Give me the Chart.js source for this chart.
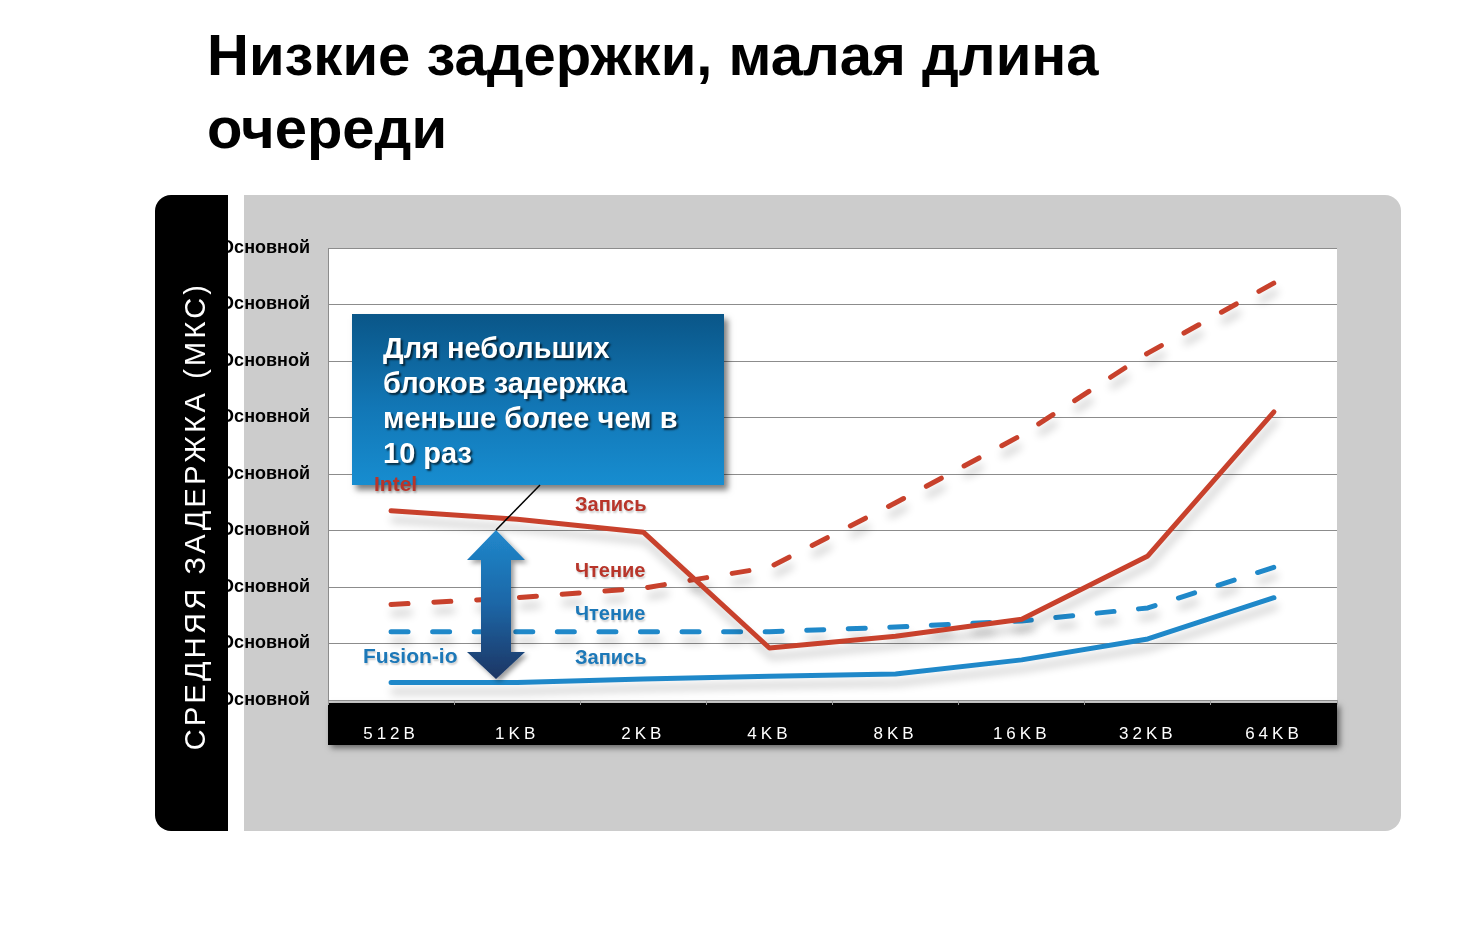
<!DOCTYPE html>
<html><head><meta charset="utf-8">
<script src="https://cdn.jsdelivr.net/npm/chart.js@4/dist/chart.umd.min.js"></script>
<style>
html,body{margin:0;padding:0;background:#fff;width:1463px;height:931px;overflow:hidden;font-family:"Liberation Sans",Arial,sans-serif;}
#title{position:absolute;left:207px;top:18px;font-size:58px;font-weight:bold;line-height:73px;color:#000;white-space:nowrap;}
#panel{position:absolute;left:244px;top:195px;width:1157px;height:636px;background:#cccccc;border-radius:0 16px 16px 0;z-index:1;}
#side{position:absolute;left:155px;top:195px;width:73px;height:636px;background:#000;border-radius:16px 0 0 16px;z-index:5;}
#ytitle{position:absolute;left:40px;top:321px;transform:translate(-50%,-50%) rotate(-90deg);color:#fff;font-size:29px;letter-spacing:3.2px;white-space:nowrap;}
#chartWrap{position:absolute;left:0;top:0;width:1463px;height:931px;z-index:2;}
#callout{position:absolute;left:352px;top:314px;width:372px;height:171px;z-index:3;
  background:linear-gradient(to bottom,#0a5688 0%,#1277b6 55%,#178dd0 100%);
  box-shadow:4px 5px 6px rgba(0,0,0,0.5);box-sizing:border-box;padding:17px 0 0 31px;
  color:#fff;font-weight:bold;font-size:29px;line-height:35px;text-shadow:2px 2px 2px rgba(0,0,0,0.65);}
#ann{position:absolute;left:0;top:0;z-index:4;pointer-events:none;}
.lbl{position:absolute;z-index:6;font-weight:bold;font-size:20px;line-height:22px;white-space:nowrap;text-shadow:1px 2px 2px rgba(0,0,0,0.2);}
.big{font-size:21px;}
.red{color:#b8352a;}
.blue{color:#1c78b8;}
</style>
</head><body>
<div id="title">Низкие задержки, малая длина<br>очереди</div>
<div id="panel"></div>
<div id="side"><div id="ytitle">СРЕДНЯЯ ЗАДЕРЖКА (МКС)</div></div>
<div id="chartWrap"><canvas id="c" width="1463" height="931"></canvas></div>
<div id="callout">Для небольших<br>блоков задержка<br>меньше более чем в<br>10 раз</div>
<svg id="ann" width="1463" height="931">
  <defs>
    <linearGradient id="ag" x1="0" y1="0" x2="0" y2="1">
      <stop offset="0" stop-color="#2188cc"/>
      <stop offset="0.5" stop-color="#1a66a6"/>
      <stop offset="1" stop-color="#1a3563"/>
    </linearGradient>
    <filter id="sh" x="-30%" y="-30%" width="160%" height="160%">
      <feDropShadow dx="3" dy="3" stdDeviation="2.5" flood-color="#000" flood-opacity="0.4"/>
    </filter>
  </defs>
  <polygon points="496,530 525,560 511,560 511,652 525,652 496,679 467,652 481,652 481,560 467,560" fill="url(#ag)" filter="url(#sh)"/>
  <line x1="496" y1="530" x2="540" y2="485" stroke="#000" stroke-width="1.5"/>
</svg>
<div class="lbl big red" style="left:374px;top:473px;">Intel</div>
<div class="lbl big blue" style="left:363px;top:645px;">Fusion-io</div>
<div class="lbl red" style="left:575px;top:493px;">Запись</div>
<div class="lbl red" style="left:575px;top:559px;">Чтение</div>
<div class="lbl blue" style="left:575px;top:602px;">Чтение</div>
<div class="lbl blue" style="left:575px;top:646px;">Запись</div>
<script>
const categories = ['512B','1KB','2KB','4KB','8KB','16KB','32KB','64KB'];
const intelWrite  = [3.35, 3.20, 2.97, 0.92, 1.13, 1.43, 2.55, 5.10];
const intelRead   = [1.69, 1.81, 1.98, 2.35, 3.49, 4.69, 6.14, 7.38];
const fusionRead  = [1.21, 1.21, 1.21, 1.21, 1.29, 1.40, 1.63, 2.35];
const fusionWrite = [0.31, 0.31, 0.37, 0.42, 0.46, 0.71, 1.08, 1.81];
const yTickLabel = 'Основной';
const yMin = 0, yMax = 8, yStep = 1;

const RED = '#c8412c', BLUE = '#1f88c9';

const bgPlugin = {
  id: 'bg',
  beforeDraw(chart) {
    const {ctx, chartArea: a} = chart;
    ctx.save();
    ctx.fillStyle = '#fff';
    ctx.fillRect(a.left, a.top, a.right - a.left, a.bottom - a.top);
    ctx.shadowColor = 'rgba(0,0,0,0.5)';
    ctx.shadowBlur = 6; ctx.shadowOffsetX = 3; ctx.shadowOffsetY = 3;
    ctx.fillStyle = '#000';
    ctx.fillRect(a.left, a.bottom + 3, a.right - a.left, 42);
    ctx.restore();
  },
  beforeDatasetDraw(chart) {
    const c = chart.ctx;
    c.save();
    c.shadowColor = 'rgba(0,0,0,0.22)';
    c.shadowBlur = 8; c.shadowOffsetX = 2; c.shadowOffsetY = 9;
  },
  afterDatasetDraw(chart) { chart.ctx.restore(); },
  afterDatasetsDraw(chart) { chart.ctx.letterSpacing = '4px'; },
  afterDraw(chart) { chart.ctx.letterSpacing = '0px'; }
};

function ds(data, color, dash) {
  return {
    data, borderColor: color, backgroundColor: color, borderWidth: 5,
    pointRadius: 0, tension: 0, fill: false,
    borderCapStyle: 'round', borderJoinStyle: 'round',
    borderDash: dash || []
  };
}

new Chart(document.getElementById('c'), {
  type: 'line',
  data: {
    labels: categories,
    datasets: [
      ds(intelWrite, RED),
      ds(intelRead, RED, [17, 25.86]),
      ds(fusionRead, BLUE, [17, 24.57]),
      ds(fusionWrite, BLUE)
    ]
  },
  options: {
    responsive: false,
    animation: false,
    devicePixelRatio: 1,
    layout: { padding: { left: 228, top: 248, right: 126, bottom: 171 } },
    plugins: { legend: { display: false }, tooltip: { enabled: false } },
    scales: {
      x: {
        type: 'category',
        offset: true,
        afterFit(s) { s.height = 60; },
        grid: { drawOnChartArea: false, drawTicks: true, tickLength: 5, color: '#9a9a9a', offset: true },
        border: { display: false },
        ticks: { color: '#fff', font: { family: 'Liberation Sans', size: 17 }, padding: 19, z: 1, maxRotation: 0, autoSkip: false }
      },
      y: {
        min: yMin, max: yMax,
        afterFit(s) { s.width = 100; },
        grid: { color: '#8c8c8c', drawTicks: false, lineWidth: 1 },
        border: { display: true, color: '#8c8c8c' },
        ticks: {
          stepSize: yStep, padding: 18, color: '#000',
          font: { family: 'Liberation Sans', size: 18, weight: 'bold' },
          callback: () => yTickLabel
        }
      }
    }
  },
  plugins: [bgPlugin]
});
</script>
</body></html>
